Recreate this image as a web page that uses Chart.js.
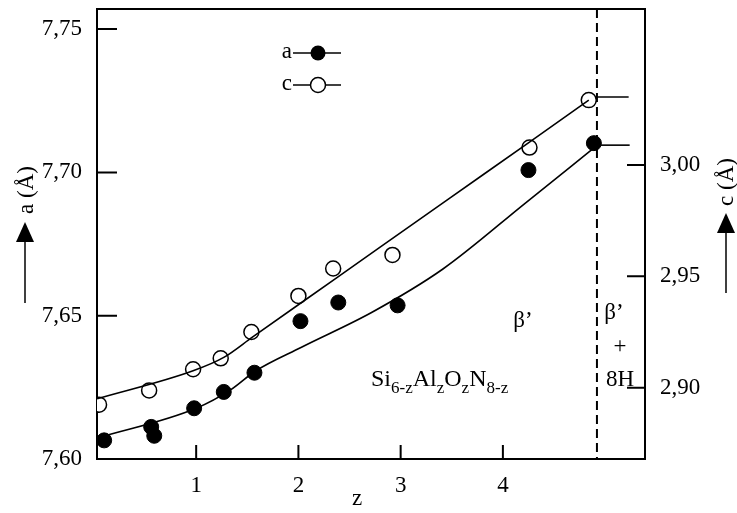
<!DOCTYPE html>
<html>
<head>
<meta charset="utf-8">
<script src="https://cdn.jsdelivr.net/npm/chart.js@4.4.1/dist/chart.umd.min.js"></script>
<style>
  html, body { margin: 0; padding: 0; background: #fff; }
  #wrap { width: 737px; height: 513px; }
</style>
</head>
<body>
<div id="wrap"><canvas id="chart" width="737" height="513"></canvas></div>
<script>
const FONT = '"Liberation Serif", "Times New Roman", serif';

// measured lattice parameters (filled = a, open = c)
const aZ = [0.10, 0.56, 0.59, 0.98, 1.27, 1.57, 2.02, 2.39, 2.97, 4.25, 4.89];
const aValues = [7.6065, 7.6112, 7.6081, 7.6177, 7.6234, 7.6301, 7.6481, 7.6546, 7.6536, 7.7008, 7.7102];
const cZ = [0.05, 0.54, 0.97, 1.24, 1.54, 2.00, 2.34, 2.92, 4.26, 4.84];
const cValues = [2.8924, 2.8988, 2.9083, 2.9132, 2.9250, 2.9412, 2.9535, 2.9596, 3.0078, 3.0291];

// hand drawn fit curves
const aCurveZ = [0.03, 1.0, 1.34, 1.58, 2.03, 2.72, 3.41, 4.22, 4.90];
const aCurveValues = [7.6073, 7.6177, 7.6242, 7.6307, 7.6390, 7.6512, 7.6662, 7.6893, 7.7088];
const cCurveZ = [0.03, 0.97, 1.27, 1.55, 2.37, 3.47, 4.26, 4.84];
const cCurveValues = [2.8950, 2.9076, 2.9136, 2.9227, 2.9492, 2.9848, 3.0102, 3.0291];
// short horizontal tails beyond the phase boundary
const aTailZ = [4.96, 5.24];
const aTailValues = [7.7095, 7.7095];
const cTailZ = [4.91, 5.23];
const cTailValues = [3.0305, 3.0305];

const xTicks = [1, 2, 3, 4];
const aTicks = [7.60, 7.65, 7.70, 7.75];
const cTicks = [2.90, 2.95, 3.00];
const phaseLimitZ = 4.92;

function pts(xs, ys) {
  return xs.map((x, i) => ({ x: x, y: ys[i] }));
}
function comma(v) {
  return v.toFixed(2).replace(".", ",");
}
function noPad(s) {
  s.paddingTop = 0; s.paddingBottom = 0; s.paddingLeft = 0; s.paddingRight = 0;
}

const decorations = {
  id: "decorations",
  beforeDatasetsDraw(chart) {
    const ctx = chart.ctx, area = chart.chartArea;
    const xs = chart.scales.x, ya = chart.scales.y, yc = chart.scales.y2;
    ctx.save();
    ctx.strokeStyle = "#000";
    ctx.lineWidth = 2;
    ctx.strokeRect(area.left, area.top, area.right - area.left, area.bottom - area.top);
    ctx.beginPath();
    xTicks.forEach(v => {
      const px = xs.getPixelForValue(v);
      ctx.moveTo(px, area.bottom); ctx.lineTo(px, area.bottom - 14);
    });
    aTicks.slice(1).forEach(v => {
      const py = ya.getPixelForValue(v);
      ctx.moveTo(area.left, py); ctx.lineTo(area.left + 20, py);
    });
    cTicks.forEach(v => {
      const py = yc.getPixelForValue(v);
      ctx.moveTo(area.right, py); ctx.lineTo(area.right - 18, py);
    });
    ctx.stroke();
    // phase boundary
    const dx = xs.getPixelForValue(phaseLimitZ);
    ctx.setLineDash([9, 5]);
    ctx.beginPath();
    ctx.moveTo(dx, area.top); ctx.lineTo(dx, area.bottom);
    ctx.stroke();
    ctx.restore();
  },
  afterDraw(chart) {
    const ctx = chart.ctx;
    ctx.save();
    ctx.fillStyle = "#000";
    ctx.strokeStyle = "#000";
    ctx.textBaseline = "middle";
    ctx.textAlign = "center";
    ctx.font = "23px " + FONT;
    ctx.fillText("z", 357, 499);
    ctx.fillText("β’", 523, 321);
    ctx.fillText("β’", 614, 313);
    ctx.fillText("+", 620, 347);
    ctx.fillText("8H", 620, 380);

    // formula with subscripts
    ctx.textAlign = "left";
    ctx.textBaseline = "alphabetic";
    let x = 371;
    [["Si", false], ["6-z", true], ["Al", false], ["z", true], ["O", false], ["z", true], ["N", false], ["8-z", true]].forEach(p => {
      ctx.font = (p[1] ? "17px " : "24px ") + FONT;
      ctx.fillText(p[0], x, p[1] ? 393 : 386);
      x += ctx.measureText(p[0]).width;
    });

    // legend
    ctx.font = "23px " + FONT;
    ctx.textAlign = "right";
    ctx.textBaseline = "middle";
    ctx.lineWidth = 1.5;
    [["a", 53, true], ["c", 85, false]].forEach(r => {
      ctx.fillText(r[0], 292, r[1] - 1);
      ctx.beginPath();
      ctx.moveTo(293, r[1]); ctx.lineTo(341, r[1]);
      ctx.stroke();
      ctx.beginPath();
      ctx.arc(318, r[1], 7.5, 0, Math.PI * 2);
      if (r[2]) { ctx.fill(); } else { ctx.fillStyle = "#fff"; ctx.fill(); ctx.fillStyle = "#000"; ctx.stroke(); }
    });

    // axis titles with arrows
    function axisTitle(text, cx, cy, ax, tip, bottom) {
      ctx.save();
      ctx.translate(cx, cy);
      ctx.rotate(-Math.PI / 2);
      ctx.textAlign = "center";
      ctx.textBaseline = "middle";
      ctx.font = "23px " + FONT;
      ctx.fillText(text, 0, 0);
      ctx.restore();
      ctx.lineWidth = 1.5;
      ctx.beginPath();
      ctx.moveTo(ax, bottom); ctx.lineTo(ax, tip + 18);
      ctx.stroke();
      ctx.beginPath();
      ctx.moveTo(ax, tip); ctx.lineTo(ax - 9, tip + 20); ctx.lineTo(ax + 9, tip + 20);
      ctx.closePath();
      ctx.fill();
    }
    axisTitle("a (Å)", 27, 190, 25, 222, 303);
    axisTitle("c (Å)", 727, 182, 726, 213, 293);
    ctx.restore();
  }
};

function curve(label, xs, ys, axis) {
  return {
    label: label, type: "line", data: pts(xs, ys), yAxisID: axis,
    borderColor: "#000", borderWidth: 1.6, pointRadius: 0, fill: false,
    cubicInterpolationMode: "monotone"
  };
}

const canvas = document.getElementById("chart");
new Chart(canvas.getContext("2d"), {
  type: "scatter",
  data: {
    datasets: [
      curve("a fit", aCurveZ, aCurveValues, "y"),
      curve("c fit", cCurveZ, cCurveValues, "y2"),
      curve("a tail", aTailZ, aTailValues, "y"),
      curve("c tail", cTailZ, cTailValues, "y2"),
      {
        label: "a", data: pts(aZ, aValues), yAxisID: "y",
        pointRadius: 7.5, pointBackgroundColor: "#000", pointBorderColor: "#000", pointBorderWidth: 1
      },
      {
        label: "c", data: pts(cZ, cValues), yAxisID: "y2",
        pointRadius: 7.5, pointBackgroundColor: "#fff", pointBorderColor: "#000", pointBorderWidth: 1.5
      }
    ]
  },
  options: {
    responsive: false,
    animation: false,
    layout: { padding: { top: 8, right: 0, left: 0, bottom: 0 } },
    plugins: { legend: { display: false }, tooltip: { enabled: false } },
    scales: {
      x: {
        type: "linear", min: 0.03, max: 5.39,
        afterBuildTicks: s => { s.ticks = xTicks.map(v => ({ value: v })); },
        afterFit: s => { s.height = 54; noPad(s); },
        grid: { display: false }, border: { display: false },
        ticks: { color: "#000", font: { family: FONT, size: 23 }, padding: 5, maxRotation: 0, autoSkip: false, callback: v => String(v) }
      },
      y: {
        position: "left", min: 7.60, max: 7.757,
        afterBuildTicks: s => { s.ticks = aTicks.map(v => ({ value: v })); },
        afterFit: s => { s.width = 97; noPad(s); },
        grid: { display: false }, border: { display: false },
        ticks: { color: "#000", font: { family: FONT, size: 23 }, padding: 7, autoSkip: false, callback: v => comma(v) }
      },
      y2: {
        position: "right", min: 2.868, max: 3.070,
        afterBuildTicks: s => { s.ticks = cTicks.map(v => ({ value: v })); },
        afterFit: s => { s.width = 92; noPad(s); },
        grid: { display: false }, border: { display: false },
        ticks: { color: "#000", font: { family: FONT, size: 23 }, padding: 7, autoSkip: false, callback: v => comma(v) }
      }
    }
  },
  plugins: [decorations]
});
</script>
</body>
</html>
